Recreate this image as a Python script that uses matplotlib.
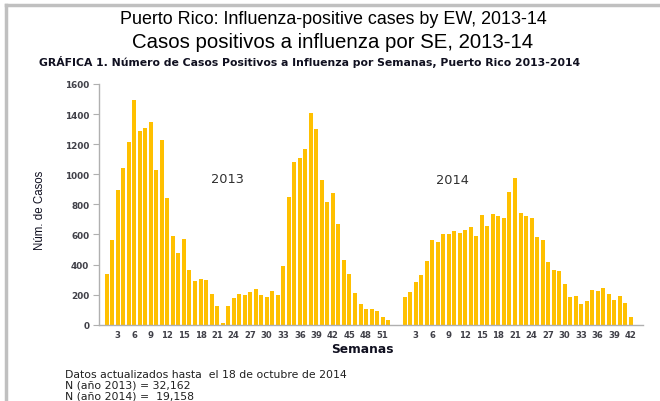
import matplotlib
matplotlib.use('Agg')
import matplotlib.pyplot as plt
import numpy as np

### Data #####################################################
cases_2013 = [335, 563, 893, 1044, 1215, 1492, 1288, 1310, 1350, 1031,
              1226, 842, 588, 479, 568, 362, 291, 304, 299, 202,
              126, 13, 126, 177, 202, 196, 215, 239, 196, 184,
              224, 196, 392, 851, 1084, 1110, 1168, 1405, 1303, 960,
              818, 876, 667, 432, 335, 211, 136, 102, 102, 89,
              51, 29]
cases_2014 = [182, 217, 282, 330, 426, 563, 550, 603, 603, 625,
              610, 632, 650, 590, 731, 658, 736, 723, 707, 882,
              975, 745, 723, 709, 581, 563, 417, 364, 357, 273,
              182, 191, 136, 158, 231, 222, 242, 202, 162, 191,
              146, 53]
tick_weeks_2013 = list(range(3, 52, 3))
tick_weeks_2014 = list(range(3, 43, 3))
y_ticks = list(range(0, 1601, 200))
##############################################################

W, H = 660, 402
gap = 2  # empty slots between the two seasons
bar_color = '#FFC000'
txt_color = '#404048'
dv = ['DejaVu Sans']
lib = ['Liberation Sans', 'DejaVu Sans']

x13 = np.arange(len(cases_2013))
x14 = np.arange(len(cases_2014)) + len(cases_2013) + gap

fig = plt.figure(figsize=(W / 100, H / 100), dpi=100)

# slide frame (left + top grey border)
fig.add_artist(plt.Line2D([5.5 / W, 5.5 / W], [0, 1 - 5.5 / H], color='#c0c0c0', lw=2.5))
fig.add_artist(plt.Line2D([5.5 / W, 1], [1 - 5.5 / H, 1 - 5.5 / H], color='#c0c0c0', lw=2.5))

# titles
fig.text(333 / W, 1 - 19 / H, 'Puerto Rico: Influenza-positive cases by EW, 2013-14',
         ha='center', va='center', fontsize=12.9, color='black', family=lib)
fig.text(333 / W, 1 - 43 / H, 'Casos positivos a influenza por SE, 2013-14',
         ha='center', va='center', fontsize=14.7, color='black', family=lib)
fig.text(39 / W, 1 - 62 / H,
         'GRÁFICA 1. Número de Casos Positivos a Influenza por Semanas, Puerto Rico 2013-2014',
         ha='left', va='center', fontsize=7.85, fontweight='bold', color='#101020', family=dv)

ax = fig.add_axes([99 / W, (H - 325.7) / H, (643 - 99) / W, (325.7 - 85) / H])
ax.bar(x13, cases_2013, width=0.72, color=bar_color)
ax.bar(x14, cases_2014, width=0.72, color=bar_color)

ax.set_xlim(-1.4, 97.2)
ax.set_ylim(0, 1600)
ax.set_yticks(y_ticks)
ax.set_yticklabels([str(v) for v in y_ticks], fontsize=6.4, fontweight='bold',
                   color=txt_color, family=dv)
xt = [w - 1 for w in tick_weeks_2013] + [w - 1 + len(cases_2013) + gap for w in tick_weeks_2014]
ax.set_xticks(xt)
ax.set_xticklabels([str(w) for w in tick_weeks_2013 + tick_weeks_2014],
                   fontsize=6.1, fontweight='bold', color=txt_color, family=dv)
ax.tick_params(axis='x', length=0, pad=4)
ax.tick_params(axis='y', length=4, width=0.8, color='#b0b0b0', pad=3)

for s in ['top', 'right']:
    ax.spines[s].set_visible(False)
for s in ['left', 'bottom']:
    ax.spines[s].set_color('#b0b0b0')
    ax.spines[s].set_linewidth(1.0)

ax.text(21.9, 975, '2013', ha='center', va='center', fontsize=9.3, color='#303030', family=dv)
ax.text(62.6, 968, '2014', ha='center', va='center', fontsize=9.3, color='#303030', family=dv)

fig.text(362 / W, 1 - 350 / H, 'Semanas', ha='center', va='center',
         fontsize=8.8, fontweight='bold', color='#101020', family=dv)
fig.text(40 / W, 1 - 210 / H, 'Núm. de Casos', ha='center', va='center', rotation=90,
         fontsize=8.3, color='#101020', family=lib)

notes = ['Datos actualizados hasta  el 18 de octubre de 2014',
         'N (año 2013) = 32,162',
         'N (año 2014) =  19,158']
for i, line in enumerate(notes):
    fig.text(65 / W, 1 - (378 + 11 * i) / H, line, ha='left', va='baseline',
             fontsize=7.8, color='#202020', family=dv)

plt.savefig('out.png', dpi=100)
plt.close()
